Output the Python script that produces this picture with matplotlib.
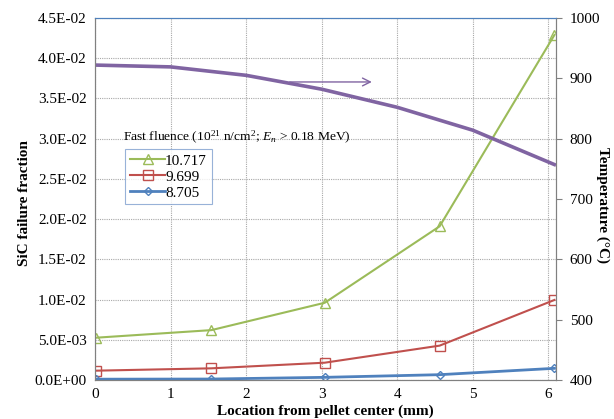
import matplotlib
matplotlib.use('Agg')
import matplotlib.pyplot as plt
from matplotlib.ticker import FuncFormatter, MultipleLocator

plt.rcParams['font.family'] = ['Liberation Serif', 'DejaVu Serif']
plt.rcParams['mathtext.fontset'] = 'custom'
plt.rcParams['mathtext.rm'] = 'Liberation Serif'
plt.rcParams['mathtext.it'] = 'Liberation Serif:italic'

# location from pellet center (mm)
location = [0.02, 1.54, 3.04, 4.56, 6.08]

# SiC failure fraction per fast fluence
fail_10717 = [0.00526, 0.0062, 0.0096, 0.0191, 0.0429]
fail_9699 = [0.00116, 0.00145, 0.00215, 0.00427, 0.00995]
fail_8705 = [0.0001, 0.00012, 0.00033, 0.00066, 0.00145]

# temperature profile (right axis)
temp_x = [0.0, 1.0, 2.0, 3.0, 4.0, 5.0, 6.1]
temp_c = [922, 919, 905, 882, 852, 814, 756]

GREEN = '#9BBB59'
RED = '#C0504D'
BLUE = '#4F81BD'
PURPLE = '#8064A2'

fig = plt.figure(figsize=(6.14, 4.19), dpi=100)
ax = fig.add_axes([0.1547, 0.0931, 0.7508, 0.8639])
ax2 = ax.twinx()

ax.plot(location, fail_10717, color=GREEN, lw=1.5, marker='^', ms=7,
        mfc='none', mec=GREEN, mew=1.0, label='10.717', zorder=4)
ax.plot(location, fail_9699, color=RED, lw=1.5, marker='s', ms=7,
        mfc='none', mec=RED, mew=1.0, label='9.699', zorder=4)
ax.plot(location, fail_8705, color=BLUE, lw=2.0, marker='D', ms=4.5,
        mfc='none', mec=BLUE, mew=1.0, label='8.705', zorder=4)

ax2.plot(temp_x, temp_c, color=PURPLE, lw=2.6, solid_capstyle='butt')
ax2.annotate('', xy=(3.70, 894), xytext=(2.54, 894),
             arrowprops=dict(arrowstyle='->', color=PURPLE, lw=1.0,
                             mutation_scale=14))

ax.set_xlim(0, 6.1)
ax.set_ylim(0, 0.045)
ax2.set_ylim(400, 1000)
ax.xaxis.set_major_locator(MultipleLocator(1))
ax.yaxis.set_major_locator(MultipleLocator(0.005))
ax2.yaxis.set_major_locator(MultipleLocator(100))
ax.yaxis.set_major_formatter(FuncFormatter(lambda v, p: f'{v:.1E}'))

ax.grid(True, color='#a8a8a8', ls=(0, (1, 1)), lw=0.8)
ax.set_axisbelow(True)

for a in (ax, ax2):
    a.spines['left'].set_color('#808080')
    a.spines['right'].set_color('#808080')
    a.spines['bottom'].set_color('#808080')
    a.spines['top'].set_color(BLUE)
ax.tick_params(axis='x', length=0, labelsize=11, pad=6)
ax.tick_params(axis='y', length=0, labelsize=11, pad=6)
ax2.tick_params(axis='y', length=4, color='#808080', labelsize=11, pad=6)

ax.set_xlabel('Location from pellet center (mm)', fontsize=11,
              fontweight='bold', labelpad=2)
fig.text(25 / 614, 0.515, 'SiC failure fraction', fontsize=11,
         fontweight='bold', rotation=90, ha='center', va='center')
fig.text(603 / 614, 0.51, 'Temperature (\u00b0C)', fontsize=11,
         fontweight='bold', rotation=270, ha='center', va='center')

ax2.text(0.061, 0.0302 / 0.045,
         r'Fast fluence (10$^{21}$ n/cm$^{2}$; $E_n$ > 0.18 MeV)',
         transform=ax.transAxes, fontsize=9.7, va='center', ha='left',
         zorder=5)

ax2.set_zorder(1)
leg = ax2.legend(*ax.get_legend_handles_labels(), loc='upper left',
                 bbox_to_anchor=(0.066, 0.637), fontsize=11,
                 frameon=True, fancybox=False, handlelength=2.3,
                 handletextpad=0.0, borderpad=0.3, labelspacing=0.15,
                 borderaxespad=0)
leg.get_frame().set_edgecolor('#7f9fcf')
leg.get_frame().set_linewidth(0.8)
ax.patch.set_visible(False)

fig.savefig('out.png', dpi=100)
